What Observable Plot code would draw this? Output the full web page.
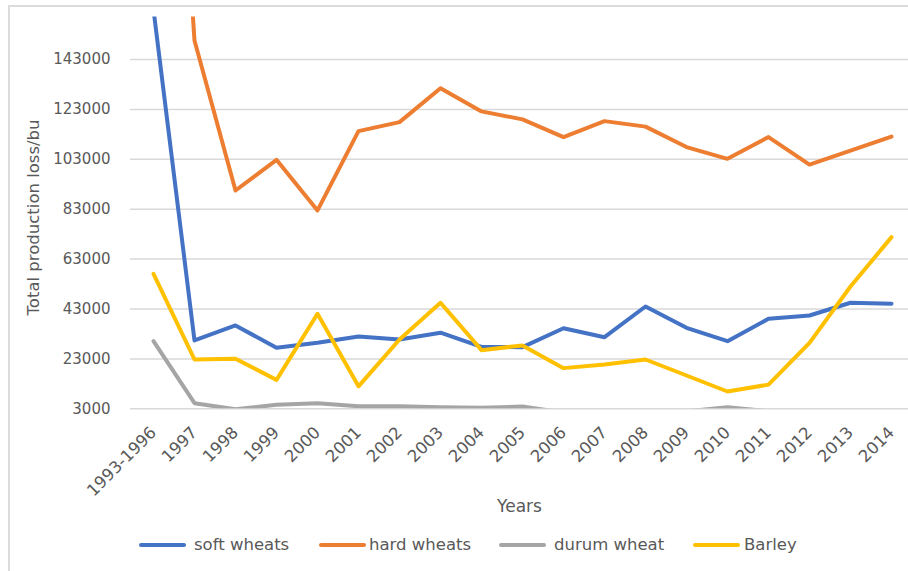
<!DOCTYPE html>
<html>
<head>
<meta charset="utf-8">
<script src="https://cdn.jsdelivr.net/npm/d3@7"></script>
<script src="https://cdn.jsdelivr.net/npm/@observablehq/plot@0.6"></script>
<style>
  html, body { margin: 0; padding: 0; background: #fff; overflow: hidden; }
  #wrap { position: relative; width: 908px; height: 571px; font-family: "DejaVu Sans", sans-serif; color: #595959; }
  #border { position: absolute; left: 8px; top: 5px; width: 920px; height: 600px; border-left: 2px solid #dcdcdc; border-top: 2px solid #dcdcdc; }
  #chart { position: absolute; left: 0; top: 0; }
  #legend { position: absolute; left: 0; top: 528px; width: 908px; height: 40px; }
  .swatch { position: absolute; top: 15px; width: 47px; height: 4px; border-radius: 2px; }
  .name { position: absolute; top: 7px; font-size: 16.5px; line-height: 20px; white-space: nowrap; }
</style>
</head>
<body>
<div id="wrap">
  <div id="border"></div>
  <div id="chart"></div>
  <div id="legend"></div>
</div>
<script>
// Categories along the x axis
const years = ["1993-1996", "1997", "1998", "1999", "2000", "2001", "2002", "2003", "2004",
  "2005", "2006", "2007", "2008", "2009", "2010", "2011", "2012", "2013", "2014"];

// Total production loss (bu) per crop
const softWheats = [163000, 30400, 36400, 27450, 29450, 32000, 30800, 33500, 27800, 27700,
  35300, 31700, 44000, 35450, 30100, 39070, 40400, 45500, 45100];
const hardWheats = [400000, 150600, 90500, 102800, 82500, 114300, 117900, 131500, 122200, 119000,
  111900, 118300, 116100, 107900, 103200, 111900, 100900, 106500, 112100];
const durumWheat = [30100, 5250, 2800, 4600, 5250, 4000, 4000, 3600, 3400, 3900,
  1500, 1500, 1500, 2000, 3650, 2000, 1500, 1500, 1500];
const barley = [57100, 22760, 23040, 14600, 41100, 12000, 30800, 45500, 26500, 28400,
  19300, 20800, 22760, 16350, 9930, 12700, 29450, 52000, 71800];

const seriesNames = ["soft wheats", "hard wheats", "durum wheat", "Barley"];
const seriesColors = ["#4472C4", "#ED7D31", "#A5A5A5", "#FFC000"];

// Value axis ticks
const yTicks = [3000, 23000, 43000, 63000, 83000, 103000, 123000, 143000];

const rows = [softWheats, hardWheats, durumWheat, barley].flatMap((vals, k) =>
  vals.map((v, i) => ({year: years[i], value: v, series: seriesNames[k]})));

const chart = Plot.plot({
  width: 908,
  height: 528,
  marginLeft: 130,
  marginRight: 0,
  marginTop: 16.6,
  marginBottom: 119.7,
  style: {fontFamily: '"DejaVu Sans", sans-serif', fontSize: "15px", color: "#595959", background: "transparent"},
  x: {type: "point", domain: years, range: [151, 892.6], padding: 0, label: null},
  y: {domain: [3000, 160000], label: null},
  color: {domain: seriesNames, range: seriesColors},
  marks: [
    Plot.ruleY(yTicks, {stroke: "#d9d9d9", strokeWidth: 1.5}),
    Plot.axisY(yTicks, {tickSize: 0, tickPadding: 20, tickFormat: d => String(d), label: null, fontSize: 15}),
    Plot.axisX({tickSize: 0, tickPadding: 21, tickRotate: -45, dx: 0, label: null, fontSize: 16.5}),
    Plot.line(rows, {x: "year", y: "value", z: "series", stroke: "series", strokeWidth: 4,
      strokeLinejoin: "round", clip: true}),
    Plot.text(["Total production loss/bu"], {frameAnchor: "left", textAnchor: "middle", dx: -97, dy: 4.5,
      rotate: -90, fontSize: 16.5, fill: "#595959"}),
    Plot.text(["Years"], {frameAnchor: "bottom", dy: 103, fontSize: 17, fill: "#595959"})
  ]
});
document.getElementById("chart").appendChild(chart);

// Legend below the chart
const swatchX = [139, 319, 499, 693];
const nameX = [194, 369, 554, 744];
const legend = document.getElementById("legend");
seriesNames.forEach((name, k) => {
  const sw = document.createElement("div");
  sw.className = "swatch";
  sw.style.left = swatchX[k] + "px";
  sw.style.background = seriesColors[k];
  legend.appendChild(sw);
  const tx = document.createElement("span");
  tx.className = "name";
  tx.style.left = nameX[k] + "px";
  tx.textContent = name;
  legend.appendChild(tx);
});
</script>
</body>
</html>
